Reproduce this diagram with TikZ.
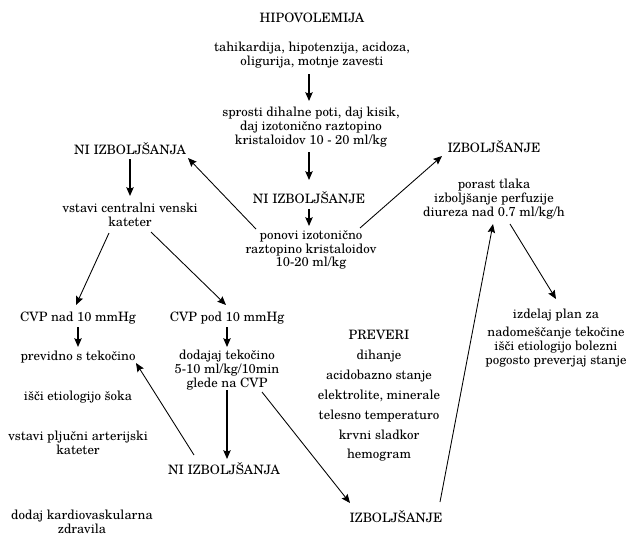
\documentclass[tikz,border=0pt]{standalone}
\usepackage{fontspec}
\setmainfont{TeX Gyre Schola}
\usetikzlibrary{arrows.meta}

\begin{document}
\begin{tikzpicture}[x=0.75pt,y=-0.75pt,
  txt/.style={inner sep=0pt, align=center, font=\fontsize{9.7}{10.2}\selectfont},
  arr/.style={-{Stealth[length=6.5pt,width=5.5pt,inset=1pt]}, line width=0.65pt},
  varr/.style={arr, line width=1pt}]
\useasboundingbox (0,0) rectangle (627,536);
\fill[white] (0,0) rectangle (627,536);

% central column
\node[txt] (hipo)    at (312,18)  {HIPOVOLEMIJA};
\node[txt] (symp)    at (312,55)  {tahikardija, hipotenzija, acidoza,\\oligurija, motnje zavesti};
\node[txt] (sprosti) at (311,127) {sprosti dihalne poti, daj kisik,\\daj izotonično raztopino\\kristaloidov 10 - 20 ml/kg};
\node[txt] (ni1)     at (309,198) {NI IZBOLJŠANJE};
\node[txt] (ponovi)  at (311,250) {ponovi izotonično\\raztopino kristaloidov\\10-20 ml/kg};

% right branch
\node[txt] (izb1)    at (494,147) {IZBOLJŠANJE};
\node[txt] (porast)  at (494,199) {porast tlaka\\izboljšanje perfuzije\\diureza nad 0.7 ml/kg/h};
\node[txt] (izdelaj) at (556,338) {izdelaj plan za\\[3.5pt]nadomeščanje tekočine\\išči etiologijo bolezni\\pogosto preverjaj stanje};

% left branch
\node[txt] (ni2)      at (130,149) {NI IZBOLJŠANJA};
\node[txt] (cvk)      at (130,215) {vstavi centralni venski\\kateter};
\node[txt] (cvpnad)   at (78,318)  {CVP nad 10 mmHg};
\node[txt] (cvppod)   at (227,318) {CVP pod 10 mmHg};
\node[txt] (previdno) at (78,357)  {previdno s tekočino};
\node[txt] (dodajaj)  at (227,370) {dodajaj tekočino\\5-10 ml/kg/10min\\glede na CVP};
\node[txt] (isci)     at (78,397)  {išči etiologijo šoka};
\node[txt] (pljucni)  at (78,443)  {vstavi pljučni arterijski\\kateter};
\node[txt] (kardio)   at (82,522)  {dodaj kardiovaskularna\\zdravila};
\node[txt] (ni3)      at (224,469) {NI IZBOLJŠANJA};
\node[txt] (izb2)     at (396,517) {IZBOLJŠANJE};

% checklist
\node[txt, font=\fontsize{9.7}{14.9}\selectfont] (preveri) at (379,396)
  {PREVERI\\dihanje\\acidobazno stanje\\elektrolite, minerale\\telesno temperaturo\\krvni sladkor\\hemogram};

% connectors
\draw[varr] ([shift={(-3,19)}]symp.center)   -- ([shift={(-2,-26)}]sprosti.center);
\draw[varr] ([shift={(-2,25)}]sprosti.center) -- ([shift={(0,-18)}]ni1.center);
\draw[varr] ([shift={(0,11)}]ni1.center)      -- ([shift={(-2,-24)}]ponovi.center);
\draw[arr]  ([shift={(-55,-21)}]ponovi.center) -- ([shift={(58,9)}]ni2.center);
\draw[arr]  ([shift={(49,-22)}]ponovi.center)  -- ([shift={(-52,9)}]izb1.center);
\draw[varr] ([shift={(0,10)}]ni2.center)      -- ([shift={(0,-19)}]cvk.center);
\draw[arr]  ([shift={(-21,18)}]cvk.center)    -- ([shift={(-2,-13)}]cvpnad.center);
\draw[arr]  ([shift={(21,17)}]cvk.center)     -- ([shift={(-1,-13)}]cvppod.center);
\draw[varr] ([shift={(0,9)}]cvpnad.center)    -- ([shift={(0,-10)}]previdno.center);
\draw[varr] ([shift={(0,9)}]cvppod.center)    -- ([shift={(0,-23)}]dodajaj.center);
\draw[varr] ([shift={(0,20)}]dodajaj.center)  -- ([shift={(3,-10)}]ni3.center);
\draw[arr]  ([shift={(-30,-14)}]ni3.center)   -- ([shift={(58,6)}]previdno.center);
\draw[arr]  ([shift={(35,22)}]dodajaj.center) -- ([shift={(-46,-14)}]izb2.center);
\draw[arr]  ([shift={(44,-15)}]izb2.center)   -- ([shift={(-1,25)}]porast.center);
\draw[arr]  ([shift={(16,25)}]porast.center)  -- ([shift={(0,-39)}]izdelaj.center);
\end{tikzpicture}
\end{document}
